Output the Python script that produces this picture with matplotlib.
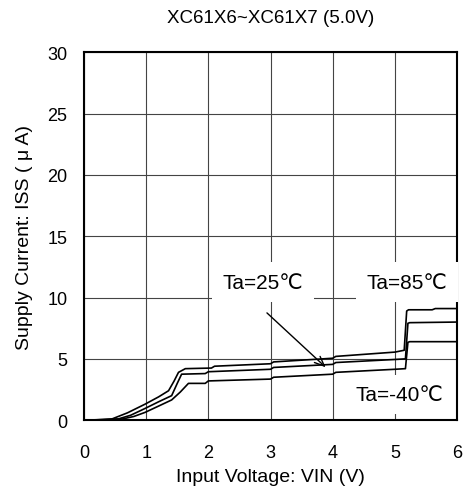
import matplotlib
matplotlib.use('Agg')
import matplotlib.pyplot as plt

plt.rcParams['font.family'] = ['Liberation Sans', 'DejaVu Sans']

# Ta=85C (top curve)
v_85 = [0, 0.3, 0.45, 0.7, 0.98, 1.2, 1.36, 1.45, 1.52, 1.63, 2.05, 2.1, 3.0, 3.05, 4.0, 4.05, 5.0, 5.15, 5.19, 5.22, 5.6, 5.65, 6.0]
i_85 = [0, 0.05, 0.1, 0.6, 1.3, 1.9, 2.4, 3.2, 3.9, 4.2, 4.25, 4.4, 4.6, 4.75, 5.05, 5.2, 5.55, 5.7, 8.9, 9.0, 9.0, 9.1, 9.1]

# Ta=25C (middle curve)
v_25 = [0, 0.35, 0.55, 0.75, 0.98, 1.2, 1.41, 1.5, 1.57, 1.95, 2.0, 3.0, 3.05, 4.0, 4.05, 5.0, 5.17, 5.21, 5.24, 6.0]
i_25 = [0, 0.05, 0.1, 0.4, 0.95, 1.5, 2.0, 3.0, 3.75, 3.8, 3.95, 4.15, 4.3, 4.55, 4.7, 4.95, 5.0, 7.9, 7.95, 8.0]

# Ta=-40C (bottom curve)
v_40 = [0, 0.4, 0.62, 0.8, 0.98, 1.2, 1.41, 1.55, 1.68, 1.95, 2.0, 3.0, 3.05, 4.0, 4.05, 5.0, 5.17, 5.21, 5.24, 6.0]
i_40 = [0, 0.05, 0.1, 0.3, 0.63, 1.15, 1.65, 2.3, 3.0, 3.0, 3.2, 3.35, 3.5, 3.75, 3.9, 4.15, 4.2, 6.35, 6.4, 6.4]

x_ticks = [0, 1, 2, 3, 4, 5, 6]
y_ticks = [0, 5, 10, 15, 20, 25, 30]

fig = plt.figure(figsize=(4.64, 5.02), dpi=100)
ax = fig.add_axes([0.181, 0.161, 0.804, 0.733])
ax.set_xlim(0, 6)
ax.set_ylim(0, 30)
ax.set_xticks(x_ticks)
ax.set_yticks(y_ticks)
ax.grid(color='#444444', lw=0.8)
ax.tick_params(length=0, labelsize=13)
ax.tick_params(axis='x', pad=17)
ax.tick_params(axis='y', pad=12)
for s in ax.spines.values():
    s.set_linewidth(1.5)

for v, i in [(v_85, i_85), (v_25, i_25), (v_40, i_40)]:
    ax.plot(v, i, color='black', lw=1.2, zorder=4)

box = dict(facecolor='white', edgecolor='none', boxstyle='square,pad=0.5')
ax.text(2.88, 11.25, 'Ta=25℃', fontsize=15, ha='center', va='center', bbox=box, zorder=3)
ax.text(5.2, 11.25, 'Ta=85℃', fontsize=15, ha='center', va='center', bbox=box, zorder=3)
ax.text(5.08, 2.1, 'Ta=-40℃', fontsize=15, ha='center', va='center', bbox=box, zorder=3)
ax.annotate('', xy=(3.92, 4.16), xytext=(2.91, 8.9),
            arrowprops=dict(arrowstyle='->,head_length=0.7,head_width=0.3',
                            color='black', lw=1.0), zorder=5)

ax.set_title('XC61X6~XC61X7 (5.0V)', fontsize=13.5, pad=22)
ax.set_xlabel('Input Voltage: VIN (V)', fontsize=14, labelpad=5)
ax.set_ylabel('Supply Current: ISS ( μ A)', fontsize=14, labelpad=10)

fig.savefig('out.png', dpi=100)
